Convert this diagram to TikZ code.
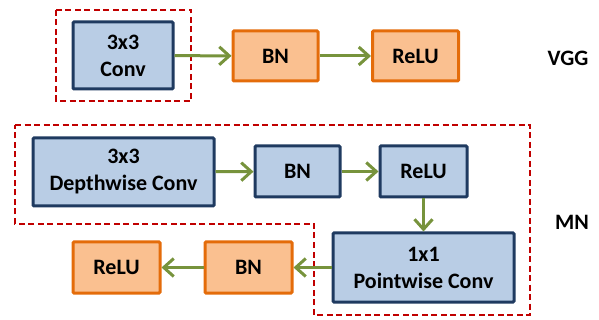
\documentclass[tikz,border=0pt]{standalone}
\usepackage{fontspec}
\setmainfont{Carlito}
\usetikzlibrary{arrows.meta}
\definecolor{bfill}{HTML}{B9CDE5}
\definecolor{bdraw}{HTML}{1F3A60}
\definecolor{ofill}{HTML}{FAC090}
\definecolor{odraw}{HTML}{E46C0A}
\definecolor{arr}{HTML}{77933C}
\definecolor{dred}{HTML}{C00000}
\begin{document}
\begin{tikzpicture}[x=1pt,y=-1pt,
  base/.style={rectangle,rounded corners=1pt,line width=3pt,align=center,inner sep=0pt,
    font=\fontsize{22}{27}\selectfont\bfseries},
  bluebox/.style={base,fill=bfill,draw=bdraw},
  orbox/.style={base,fill=ofill,draw=odraw},
  conn/.style={draw=arr,line width=3pt,-{Straight Barb[length=10pt,width=18pt,line width=3pt]}},
  dbox/.style={draw=dred,line width=2pt,dash pattern=on 6pt off 3.5pt},
  lbl/.style={font=\fontsize{22}{26}\selectfont\bfseries}]
\useasboundingbox (0,0) rectangle (599,320);
% VGG
\draw[dbox] (56,10) rectangle (191,101);
\node[bluebox,minimum width=100pt,minimum height=67pt] (vconv) at (123,55.5) {3x3\\Conv};
\node[orbox,minimum width=85pt,minimum height=50pt] (vbn) at (275.5,56) {BN};
\node[orbox,minimum width=86pt,minimum height=50pt] (vrelu) at (415.5,56) {ReLU};
\node[lbl] (vgg) at (568,58) {VGG};
\draw[conn] (vconv) -- (vbn);
\draw[conn] (vbn) -- (vrelu);
% MN
\draw[dbox] (15,125) -- (530,125) -- (530,315) -- (314,315) -- (314,224) -- (15,224) -- cycle;
\node[bluebox,minimum width=181pt,minimum height=68pt] (dw) at (123.5,172) {3x3\\Depthwise Conv};
\node[bluebox,minimum width=85pt,minimum height=51pt] (mbn) at (297.5,171.5) {BN};
\node[bluebox,minimum width=87pt,minimum height=51pt] (mrelu) at (423.5,171.5) {ReLU};
\node[bluebox,minimum width=181pt,minimum height=69pt] (pw) at (423.5,267.5) {1x1\\Pointwise Conv};
\node[orbox,minimum width=87pt,minimum height=51pt] (bbn) at (248.5,267.5) {BN};
\node[orbox,minimum width=87pt,minimum height=51pt] (brelu) at (116.5,267.5) {ReLU};
\node[lbl] (mn) at (572,222) {MN};
\draw[conn] (dw) -- (mbn);
\draw[conn] (mbn) -- (mrelu);
\draw[conn] (mrelu) -- (pw);
\draw[conn] (pw) -- (bbn);
\draw[conn] (bbn) -- (brelu);
\end{tikzpicture}
\end{document}
